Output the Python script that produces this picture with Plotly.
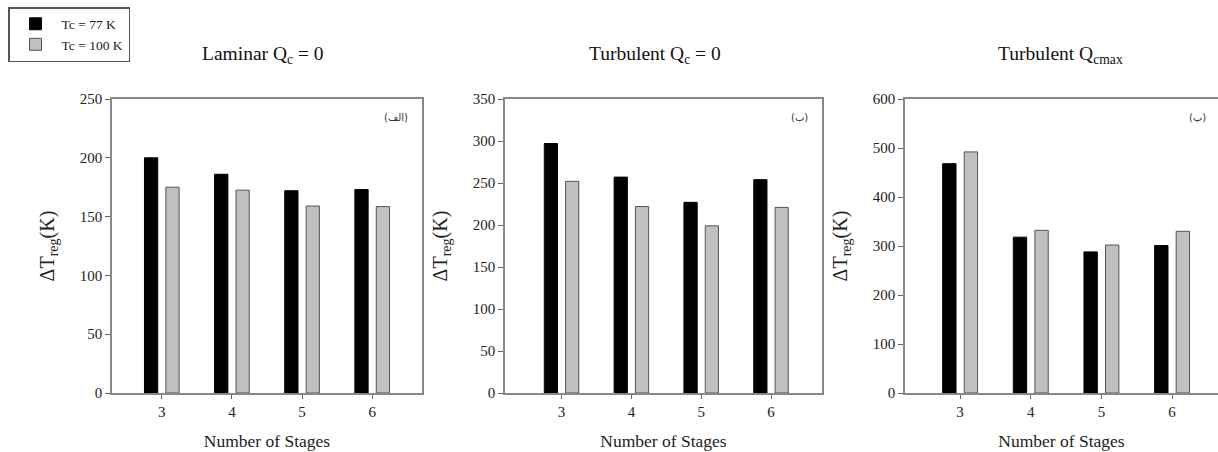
import plotly.graph_objects as go

stages = [3, 4, 5, 6]
series_names = ["Tc = 77 K", "Tc = 100 K"]

laminar_77 = [200, 186, 172, 173]
laminar_100 = [175, 172.5, 159, 158.5]

turb_77 = [297, 257, 227, 254]
turb_100 = [252, 222, 199, 221]

turbmax_77 = [468, 318, 288, 301]
turbmax_100 = [492, 332, 302, 330]

panel_titles = ["Laminar Q<sub>c</sub> = 0", "Turbulent Q<sub>c</sub> = 0", "Turbulent Q<sub>cmax</sub>"]
panel_tags = ["\u202b(الف)\u202c", "\u202b(ب)\u202c", "\u202b(پ)\u202c"]
y_ranges = [[0, 250], [0, 350], [0, 600]]
y_dticks = [50, 50, 100]
x_ranges = [[2.29, 6.71], [2.19, 6.73], [2.22, 6.65]]

W, H = 1218, 452
FONT = "Liberation Serif"

fig = go.Figure()

domains_px = [(112, 422), (505, 822), (905, 1218)]
y_dom = [1 - 393 / H, 1 - 99 / H]

data = [(laminar_77, laminar_100), (turb_77, turb_100), (turbmax_77, turbmax_100)]

for i, (s77, s100) in enumerate(data):
    xa = "x" if i == 0 else f"x{i+1}"
    ya = "y" if i == 0 else f"y{i+1}"
    fig.add_trace(go.Bar(x=stages, y=s77, name=series_names[0], xaxis=xa, yaxis=ya,
                         marker=dict(color="#000000", line=dict(color="#000000", width=1)),
                         showlegend=(i == 0), legendgroup="a"))
    fig.add_trace(go.Bar(x=stages, y=s100, name=series_names[1], xaxis=xa, yaxis=ya,
                         marker=dict(color="#c0c0c0", line=dict(color="#555555", width=1)),
                         showlegend=(i == 0), legendgroup="b"))

layout = dict(
    width=W, height=H,
    margin=dict(l=0, r=0, t=0, b=0, autoexpand=False),
    paper_bgcolor="white", plot_bgcolor="white",
    barmode="group", bargap=0.39, bargroupgap=0.38,
    font=dict(family=FONT, color="#222222", size=15),
    showlegend=True,
    legend=dict(x=8 / W, y=1 - 7 / H, xanchor="left", yanchor="top",
                bordercolor="#555555", borderwidth=1.5, bgcolor="white",
                font=dict(size=13.5, family=FONT, color="#222222"),
                tracegroupgap=0, itemwidth=42, traceorder="normal"),
)

for i in range(3):
    sx = "" if i == 0 else str(i + 1)
    x0, x1 = domains_px[i]
    layout[f"xaxis{sx}"] = dict(
        domain=[x0 / W, min(x1 / W, 1.0)], range=x_ranges[i], automargin=False,
        anchor=f"y{sx}", tickvals=stages, ticks="outside", ticklen=4, tickcolor="#666666",
        showline=True, linecolor="#888888", linewidth=1.5, mirror=True,
        showgrid=False, zeroline=False, tickfont=dict(size=15, family=FONT, color="#222222"),
        title=dict(text="Number of Stages", font=dict(size=17.5, family=FONT, color="#222222"), standoff=16),
    )
    layout[f"yaxis{sx}"] = dict(
        domain=y_dom, range=y_ranges[i], dtick=y_dticks[i], tick0=0, automargin=False,
        anchor=f"x{sx}", ticks="outside", ticklen=5, tickcolor="#666666",
        showline=True, linecolor="#888888", linewidth=1.5, mirror=True,
        showgrid=False, zeroline=False, tickfont=dict(size=15, family=FONT, color="#222222"),
        title=dict(text="ΔT<sub>reg</sub>(K)", font=dict(size=20, family=FONT, color="#222222"), standoff=20),
    )

fig.update_layout(**layout)

title_x = [263, 655, 1060]
for i in range(3):
    fig.add_annotation(text=panel_titles[i], x=title_x[i] / W, y=1 - 55 / H,
                       xref="paper", yref="paper", xanchor="center", yanchor="middle",
                       showarrow=False, font=dict(size=19.5, family=FONT, color="#111111"))

tag_x = [410, 810, 1208]
for i in range(3):
    fig.add_annotation(text=panel_tags[i], x=tag_x[i] / W, y=1 - 117 / H,
                       xref="paper", yref="paper", xanchor="right", yanchor="middle",
                       showarrow=False, font=dict(size=10, family="DejaVu Sans", color="#333333"))

fig.write_html("out.html", config={"displayModeBar": False},
               post_script="document.body.style.margin='0';document.body.style.overflow='hidden';")
